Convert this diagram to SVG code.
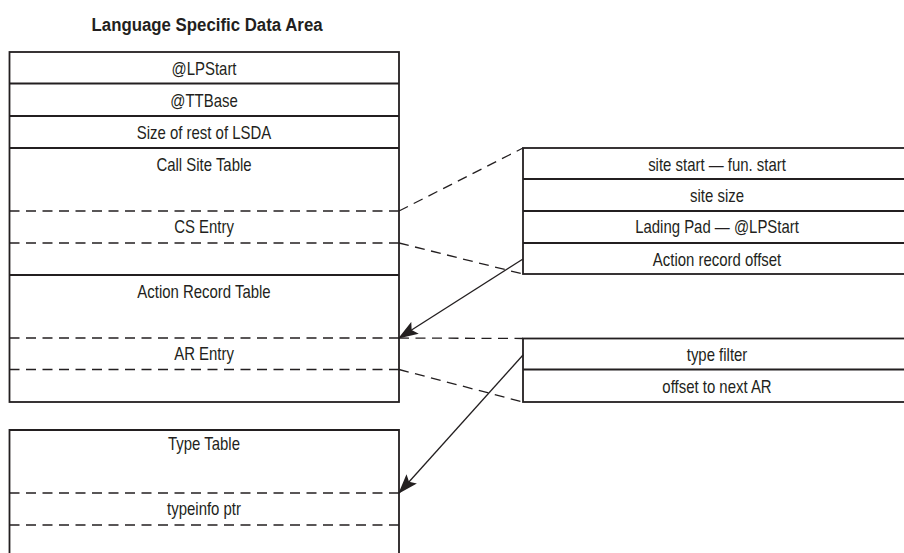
<svg xmlns="http://www.w3.org/2000/svg" width="904" height="553" viewBox="0 0 904 553">
  <style>
    text { font-family: "Liberation Sans", Arial, sans-serif; font-size: 18px; fill: #231f20; text-anchor: middle;
           transform: scaleX(0.83); transform-box: fill-box; transform-origin: center; }
    text.title { font-weight: bold; font-size: 19px; transform: scaleX(0.885); }
    .box { fill: #fff; stroke: #231f20; stroke-width: 1.8; }
    .row { stroke: #231f20; stroke-width: 1.8; fill: none; }
    .dash { stroke: #231f20; stroke-width: 1.3; stroke-dasharray: 10 6.5; fill: none; }
    .arrow { stroke: #231f20; stroke-width: 1.3; fill: none; marker-end: url(#head); }
  </style>
  <defs>
    <marker id="head" viewBox="0 0 20 14" refX="19" refY="7" markerWidth="20" markerHeight="14" markerUnits="userSpaceOnUse" orient="auto">
      <path d="M0,0 L20,7 L0,14 L4,7 Z" fill="#231f20"/>
    </marker>
  </defs>
  <rect width="904" height="553" fill="#fff"/>

  <text class="title" x="207" y="31">Language Specific Data Area</text>

  <!-- LSDA header and tables -->
  <g id="lsda">
    <rect class="box" x="9.5" y="52" width="389.5" height="350"/>
    <line class="row" x1="9.5" y1="83.5" x2="399" y2="83.5"/>
    <line class="row" x1="9.5" y1="116" x2="399" y2="116"/>
    <line class="row" x1="9.5" y1="148" x2="399" y2="148"/>
    <line class="row" x1="9.5" y1="275" x2="399" y2="275"/>
    <line class="dash" x1="9.5" y1="211" x2="399" y2="211"/>
    <line class="dash" x1="9.5" y1="243" x2="399" y2="243"/>
    <line class="dash" x1="9.5" y1="338" x2="399" y2="338"/>
    <line class="dash" x1="9.5" y1="369.5" x2="399" y2="369.5"/>
    <text x="204" y="75">@LPStart</text>
    <text x="204" y="107">@TTBase</text>
    <text x="204" y="139">Size of rest of LSDA</text>
    <text x="204" y="171">Call Site Table</text>
    <text x="204" y="233">CS Entry</text>
    <text x="204" y="298">Action Record Table</text>
    <text x="204" y="360">AR Entry</text>
  </g>

  <!-- Type table (continues below) -->
  <g id="type-table">
    <path class="row" d="M9.5,560 V430 H399 V560"/>
    <line class="dash" x1="9.5" y1="493" x2="399" y2="493"/>
    <line class="dash" x1="9.5" y1="525" x2="399" y2="525"/>
    <text x="204" y="450">Type Table</text>
    <text x="204" y="515">typeinfo ptr</text>
  </g>

  <!-- Call site entry layout -->
  <g id="cs-entry">
    <rect class="box" x="523" y="148" width="400" height="126"/>
    <line class="row" x1="523" y1="179" x2="910" y2="179"/>
    <line class="row" x1="523" y1="211" x2="910" y2="211"/>
    <line class="row" x1="523" y1="243" x2="910" y2="243"/>
    <text x="717" y="171">site start — fun. start</text>
    <text x="717" y="202">site size</text>
    <text x="717" y="233">Lading Pad — @LPStart</text>
    <text x="717" y="266">Action record offset</text>
  </g>

  <!-- Action record entry layout -->
  <g id="ar-entry">
    <rect class="box" x="523" y="338.5" width="400" height="63.5"/>
    <line class="row" x1="523" y1="369.5" x2="910" y2="369.5"/>
    <text x="717" y="361">type filter</text>
    <text x="717" y="393">offset to next AR</text>
  </g>

  <g id="connectors">
    <line class="dash" x1="399" y1="211" x2="523" y2="148"/>
    <line class="dash" x1="399" y1="243" x2="523" y2="274"/>
    <line class="dash" x1="399" y1="338" x2="523" y2="338.5"/>
    <line class="dash" x1="399" y1="369.5" x2="523" y2="402"/>
    <line class="arrow" x1="523" y1="259" x2="399" y2="338"/>
    <line class="arrow" x1="523" y1="355" x2="399" y2="493"/>
  </g>
</svg>
